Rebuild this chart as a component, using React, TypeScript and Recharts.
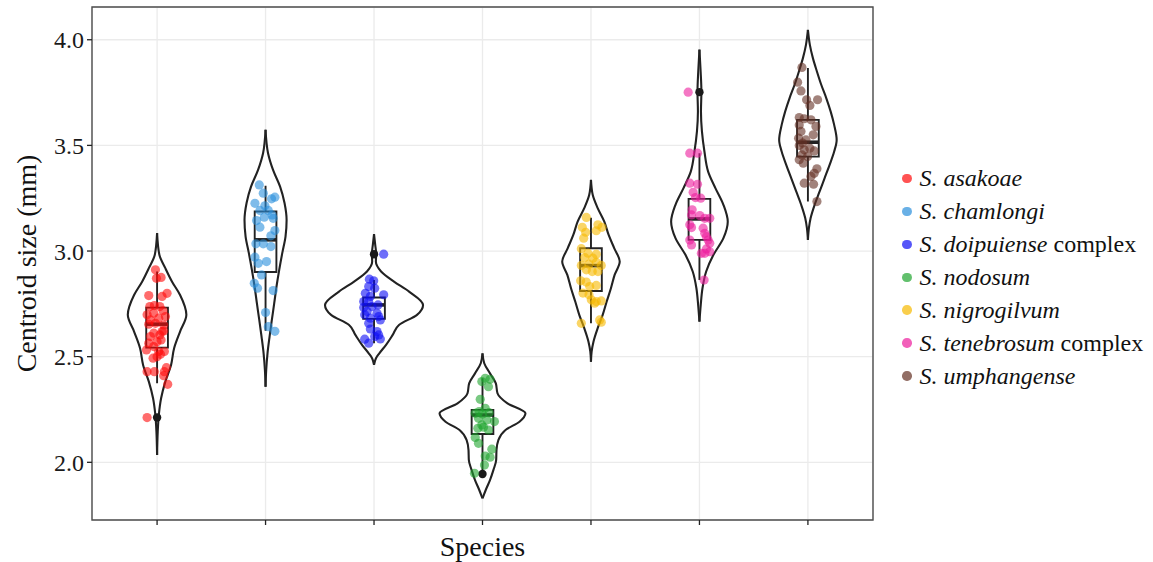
import React from "react";
import {
  ComposedChart,
  Area,
  Line,
  Scatter,
  XAxis,
  YAxis,
  CartesianGrid,
  ReferenceArea,
} from "recharts";

const SPECIES = ["S. asakoae", "S. chamlongi", "S. doipuiense", "S. nodosum", "S. nigrogilvum", "S. tenebrosum", "S. umphangense"];
const SPECIES_SUFFIX = ["", "", " complex", "", "", " complex", ""];
const COLORS = ["#FF0A0A", "#2A8FDC", "#0E0EF5", "#1FA52F", "#F7B900", "#EC1C9C", "#643024"];

const Y_TICKS = [2.0, 2.5, 3.0, 3.5, 4.0];
const Y_MINOR = [1.75, 2.25, 2.75, 3.25, 3.75];
const Y_DOMAIN: [number, number] = [1.727, 4.155];
const X_TICKS = [1, 2, 3, 4, 5, 6, 7];
const X_DOMAIN: [number, number] = [0.4, 7.6];

// violin outlines: levels (mm) and half widths (category units)
const VIOLIN_LEVELS = [
  [3.085, 2.982, 2.919, 2.855, 2.792, 2.698, 2.619, 2.54, 2.461, 2.382, 2.303, 2.224, 2.145, 2.035],
  [3.574, 3.463, 3.384, 3.305, 3.227, 3.147, 3.068, 2.99, 2.911, 2.832, 2.753, 2.674, 2.595, 2.516, 2.437, 2.358],
  [3.08, 3.029, 2.985, 2.95, 2.903, 2.855, 2.808, 2.745, 2.698, 2.65, 2.603, 2.556, 2.516, 2.493, 2.461],
  [2.516, 2.469, 2.421, 2.374, 2.327, 2.279, 2.232, 2.192, 2.153, 2.106, 2.058, 2.011, 1.964, 1.916, 1.869, 1.829],
  [3.337, 3.266, 3.203, 3.139, 3.076, 3.013, 2.95, 2.887, 2.824, 2.761, 2.698, 2.635, 2.571, 2.524, 2.476],
  [3.953, 3.85, 3.755, 3.66, 3.566, 3.471, 3.376, 3.298, 3.219, 3.139, 3.061, 2.982, 2.903, 2.824, 2.745, 2.666],
  [4.047, 3.976, 3.913, 3.85, 3.787, 3.724, 3.66, 3.597, 3.526, 3.471, 3.408, 3.345, 3.282, 3.219, 3.156, 3.108, 3.053],
];
const VIOLIN_HALF = [
  [0, 0.021, 0.076, 0.138, 0.212, 0.27, 0.212, 0.157, 0.129, 0.076, 0.037, 0.016, 0.006, 0],
  [0, 0.023, 0.069, 0.134, 0.175, 0.194, 0.184, 0.154, 0.126, 0.101, 0.08, 0.058, 0.037, 0.018, 0.006, 0],
  [0, 0.011, 0.02, 0.017, 0.065, 0.184, 0.323, 0.452, 0.396, 0.23, 0.172, 0.111, 0.049, 0.018, 0],
  [0, 0.016, 0.069, 0.123, 0.138, 0.23, 0.396, 0.341, 0.212, 0.147, 0.129, 0.126, 0.101, 0.069, 0.03, 0],
  [0, 0.016, 0.062, 0.123, 0.163, 0.215, 0.265, 0.218, 0.184, 0.145, 0.108, 0.062, 0.023, 0.006, 0],
  [0, 0.011, 0.018, 0.014, 0.023, 0.046, 0.08, 0.147, 0.221, 0.261, 0.221, 0.129, 0.062, 0.028, 0.012, 0],
  [0, 0.018, 0.046, 0.083, 0.123, 0.169, 0.21, 0.242, 0.265, 0.242, 0.2, 0.154, 0.108, 0.062, 0.025, 0.009, 0],
];

// boxplot stats
const WHISKER_LO = [2.374, 2.623, 2.563, 1.964, 2.658, 2.863, 3.234];
const Q1 = [2.543, 2.901, 2.679, 2.134, 2.811, 3.053, 3.447];
const MEDIAN = [2.654, 3.053, 2.745, 2.224, 2.931, 3.152, 3.515];
const Q3 = [2.732, 3.187, 2.78, 2.248, 3.013, 3.247, 3.621];
const WHISKER_HI = [2.903, 3.309, 2.863, 2.398, 3.158, 3.463, 3.866];
const OUTLIER_CAT = [1, 3, 4, 6];
const OUTLIER_Y = [2.212, 2.985, 1.945, 3.752];

// jittered observations: [x offset from category, centroid size]
const ASAKOAE = [
  [-0.015, 2.911], [-0.006, 2.871], [0.037, 2.875], [-0.077, 2.789], [0.046, 2.785], [0.092, 2.8],
  [-0.067, 2.737], [-0.025, 2.742], [0.025, 2.737], [-0.092, 2.698], [-0.031, 2.706], [0.055, 2.717],
  [-0.061, 2.674], [0.015, 2.682], [0.077, 2.69], [-0.077, 2.654], [-0.015, 2.658], [0.061, 2.65],
  [-0.031, 2.611], [0.046, 2.619], [-0.061, 2.595], [0.025, 2.603], [0.061, 2.622], [-0.077, 2.564],
  [0, 2.571], [0.037, 2.579], [-0.031, 2.548], [-0.098, 2.532], [0.015, 2.524], [0.067, 2.524],
  [0.031, 2.511], [-0.037, 2.493], [0, 2.5], [-0.092, 2.429], [-0.025, 2.429], [0.067, 2.429],
  [0.086, 2.448], [0.061, 2.41], [0.098, 2.369], [-0.092, 2.212],
];
const CHAMLONGI = [
  [-0.058, 3.313], [-0.021, 3.274], [0.055, 3.247], [0.086, 3.255], [-0.098, 3.226], [-0.006, 3.214],
  [-0.052, 3.192], [0.025, 3.192], [0.061, 3.171], [-0.012, 3.16], [0.07, 3.155], [-0.083, 3.144],
  [-0.052, 3.113], [0.086, 3.097], [0.049, 3.072], [-0.089, 3.034], [-0.021, 3.034], [0.049, 3.021],
  [-0.098, 2.971], [-0.067, 2.942], [0.009, 2.95], [-0.037, 2.887], [-0.104, 2.847], [-0.074, 2.824],
  [0.07, 2.813], [0, 2.709], [0.025, 2.642], [0.086, 2.62],
];
const DOIPUIENSE = [
  [0.089, 2.985], [-0.043, 2.867], [-0.003, 2.859], [-0.049, 2.832], [0.006, 2.824], [0.089, 2.793],
  [-0.08, 2.8], [-0.034, 2.785], [-0.095, 2.761], [-0.049, 2.761], [0.037, 2.745], [-0.095, 2.733],
  [-0.018, 2.737], [-0.064, 2.714], [0.028, 2.706], [-0.086, 2.698], [0.043, 2.69], [-0.034, 2.682],
  [-0.049, 2.658], [0.058, 2.674], [-0.034, 2.631], [0.028, 2.619], [0.043, 2.603], [0.058, 2.584],
  [-0.086, 2.583], [-0.049, 2.564], [0.006, 2.595],
];
const NODOSUM = [
  [0.025, 2.398], [0.07, 2.393], [-0.006, 2.382], [0.055, 2.358], [-0.021, 2.298], [0.025, 2.256],
  [-0.031, 2.24], [-0.067, 2.232], [0, 2.229], [0.061, 2.235], [-0.037, 2.208], [0.04, 2.2],
  [0.11, 2.193], [-0.006, 2.177], [-0.043, 2.161], [0.055, 2.153], [0.009, 2.166], [-0.067, 2.118],
  [-0.037, 2.09], [0.086, 2.062], [0.025, 2.03], [0.07, 2.024], [0.018, 1.987], [-0.074, 1.948],
];
const NIGROGILVUM = [
  [-0.043, 3.159], [-0.08, 3.112], [0.064, 3.124], [0.101, 3.112], [-0.049, 3.089], [-0.067, 3.061],
  [0.049, 3.096], [-0.089, 3.011], [-0.028, 2.99], [0.049, 2.985], [-0.058, 2.969], [0.018, 2.966],
  [-0.089, 2.932], [-0.018, 2.938], [0.049, 2.947], [0.095, 2.932], [-0.043, 2.911], [0.012, 2.903],
  [0.064, 2.903], [-0.095, 2.859], [-0.043, 2.853], [-0.012, 2.832], [0.049, 2.837], [-0.074, 2.801],
  [-0.018, 2.793], [0.003, 2.769], [0.049, 2.761], [0.095, 2.764], [0.034, 2.753], [-0.089, 2.658],
  [0.08, 2.674], [0.095, 2.663],
];
const TENEBROSUM = [
  [-0.104, 3.752], [-0.089, 3.463], [-0.018, 3.463], [-0.089, 3.321], [-0.018, 3.316], [-0.058, 3.278],
  [-0.037, 3.253], [0.012, 3.25], [-0.067, 3.195], [-0.073, 3.171], [0.003, 3.168], [0.049, 3.155],
  [0.095, 3.155], [-0.089, 3.124], [-0.073, 3.111], [0.034, 3.108], [0.049, 3.084], [0.064, 3.068],
  [-0.089, 3.052], [-0.073, 3.029], [0.08, 3.052], [0.095, 3.037], [0.064, 3.01], [0.018, 2.989],
  [0.095, 2.997], [0.049, 2.989], [0.043, 2.863],
];
const UMPHANGENSE = [
  [-0.055, 3.869], [-0.095, 3.799], [-0.064, 3.758], [-0.012, 3.716], [0.089, 3.716], [0.018, 3.689],
  [-0.08, 3.632], [-0.034, 3.626], [0.028, 3.621], [0.074, 3.59], [-0.08, 3.597], [-0.064, 3.566],
  [0.049, 3.55], [-0.086, 3.534], [-0.018, 3.526], [-0.049, 3.511], [-0.08, 3.5], [0.018, 3.487],
  [-0.034, 3.479], [0.058, 3.474], [-0.055, 3.455], [-0.003, 3.447], [-0.08, 3.432], [-0.043, 3.416],
  [0.083, 3.389], [0.058, 3.368], [0.028, 3.353], [-0.034, 3.321], [0.052, 3.316], [0.083, 3.234],
];
const POINTS = [ASAKOAE, CHAMLONGI, DOIPUIENSE, NODOSUM, NIGROGILVUM, TENEBROSUM, UMPHANGENSE];

const BOX_HALF = 0.1;
const INK = "#222222";
const GRID = "#EBEBEB";
const FONT = "'Liberation Serif', 'Times New Roman', serif";

function violinData(i: number) {
  const c = i + 1;
  return VIOLIN_LEVELS[i].map((y, k) => ({ y, range: [c - VIOLIN_HALF[i][k], c + VIOLIN_HALF[i][k]] }));
}

// one polyline: upper whisker, box outline, lower whisker
function boxData(i: number) {
  const c = i + 1;
  const w = BOX_HALF;
  return [
    { y: WHISKER_HI[i], x: c },
    { y: Q3[i], x: c },
    { y: Q3[i], x: c + w },
    { y: Q1[i], x: c + w },
    { y: Q1[i], x: c },
    { y: WHISKER_LO[i], x: c },
    { y: Q1[i], x: c },
    { y: Q1[i], x: c - w },
    { y: Q3[i], x: c - w },
    { y: Q3[i], x: c },
  ];
}

function medianData(i: number) {
  const c = i + 1;
  return [
    { y: MEDIAN[i], x: c - BOX_HALF },
    { y: MEDIAN[i], x: c + BOX_HALF },
  ];
}

const outlierData = OUTLIER_CAT.map((c, k) => ({ x: c, y: OUTLIER_Y[k] }));

function Legend() {
  return (
    <div style={{ position: "absolute", left: 902, top: 162, fontSize: 24, color: "#111" }}>
      {SPECIES.map((name, i) => (
        <div key={name} style={{ display: "flex", alignItems: "center", height: 32.95, lineHeight: "32.95px", whiteSpace: "nowrap" }}>
          <span
            style={{
              display: "inline-block",
              width: 9.5,
              height: 9.5,
              borderRadius: "50%",
              background: COLORS[i],
              opacity: 0.7,
              marginRight: 8,
            }}
          />
          <span style={{ fontStyle: "italic" }}>{name}</span>
          {SPECIES_SUFFIX[i] && <span>&nbsp;{SPECIES_SUFFIX[i].trim()}</span>}
        </div>
      ))}
    </div>
  );
}

export default function App() {
  return (
    <div style={{ position: "absolute", left: 0, top: 0, width: 1153, height: 562, background: "#fff", fontFamily: FONT }}>
      <ComposedChart
        width={1153}
        height={562}
        layout="vertical"
        margin={{ top: 7, right: 280, bottom: 0, left: 0 }}
      >
        <CartesianGrid stroke={GRID} strokeWidth={1.3} />
        <CartesianGrid yAxisId="minor" stroke={GRID} strokeWidth={0.8} vertical={false} />
        <XAxis
          type="number"
          dataKey="x"
          domain={X_DOMAIN}
          allowDataOverflow
          ticks={X_TICKS}
          interval={0}
          tickFormatter={() => ""}
          tickSize={5}
          height={42}
          axisLine={false}
          tickLine={{ stroke: INK, strokeWidth: 1.3 }}
          label={{ value: "Species", position: "insideBottom", offset: 6, fontSize: 28, fill: "#111", fontFamily: FONT }}
        />
        <YAxis
          type="number"
          dataKey="y"
          reversed
          domain={Y_DOMAIN}
          allowDataOverflow
          ticks={Y_TICKS}
          interval={0}
          tickFormatter={(v: number) => v.toFixed(1)}
          tick={{ fill: "#1a1a1a", fontSize: 24, fontFamily: FONT }}
          tickSize={5}
          tickMargin={3}
          width={92}
          axisLine={false}
          tickLine={{ stroke: INK, strokeWidth: 1.3 }}
          label={{
            value: "Centroid size (mm)",
            angle: -90,
            position: "insideLeft",
            offset: 26,
            fontSize: 28,
            fill: "#111",
            fontFamily: FONT,
            style: { textAnchor: "middle" },
          }}
        />
        <YAxis yAxisId="minor" type="number" reversed domain={Y_DOMAIN} allowDataOverflow ticks={Y_MINOR} interval={0} hide />
        <ReferenceArea
          x1={X_DOMAIN[0]}
          x2={X_DOMAIN[1]}
          y1={Y_DOMAIN[0]}
          y2={Y_DOMAIN[1]}
          fill="none"
          stroke="#4d4d4d"
          strokeWidth={1.4}
        />

        {SPECIES.map((name, i) => (
          <Area
            key={`violin-${name}`}
            data={violinData(i)}
            dataKey="range"
            type="monotone"
            stroke={INK}
            strokeWidth={2.1}
            fill="#ffffff"
            fillOpacity={1}
            dot={false}
            activeDot={false}
            isAnimationActive={false}
          />
        ))}
        {SPECIES.map((name, i) => (
          <Line
            key={`box-${name}`}
            data={boxData(i)}
            dataKey="x"
            type="linear"
            stroke={INK}
            strokeWidth={1.9}
            dot={false}
            activeDot={false}
            isAnimationActive={false}
          />
        ))}
        {SPECIES.map((name, i) => (
          <Line
            key={`median-${name}`}
            data={medianData(i)}
            dataKey="x"
            type="linear"
            stroke={INK}
            strokeWidth={3.6}
            dot={false}
            activeDot={false}
            isAnimationActive={false}
          />
        ))}
        <Scatter
          data={outlierData}
          isAnimationActive={false}
          shape={(p: any) => <circle cx={p.cx} cy={p.cy} r={4.2} fill="#1a1a1a" />}
        />
        {SPECIES.map((name, i) => (
          <Scatter
            key={`pts-${name}`}
            name={name}
            data={POINTS[i].map(([dx, y]) => ({ x: i + 1 + dx, y }))}
            isAnimationActive={false}
            shape={(p: any) => <circle cx={p.cx} cy={p.cy} r={4.6} fill={COLORS[i]} fillOpacity={0.6} />}
          />
        ))}
      </ComposedChart>
      <Legend />
    </div>
  );
}
